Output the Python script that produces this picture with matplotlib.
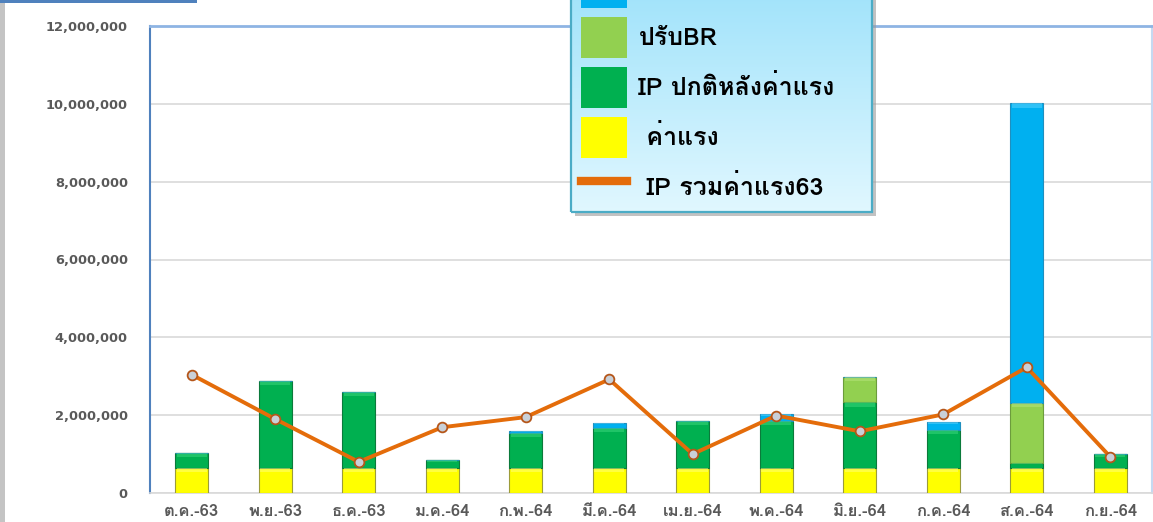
import numpy as np
import matplotlib
matplotlib.use('Agg')
import matplotlib.pyplot as plt
from matplotlib import font_manager
from matplotlib.ft2font import FT2Font
from matplotlib.patches import Patch, Rectangle
from matplotlib.lines import Line2D
from matplotlib.legend_handler import HandlerPatch, HandlerLine2D
from matplotlib.ticker import FuncFormatter, MultipleLocator

# ---------------- data ----------------
months = ['ต.ค.-63', 'พ.ย.-63', 'ธ.ค.-63', 'ม.ค.-64', 'ก.พ.-64', 'มี.ค.-64',
          'เม.ย.-64', 'พ.ค.-64', 'มิ.ย.-64', 'ก.ค.-64', 'ส.ค.-64', 'ก.ย.-64']
wage = [650000, 650000, 650000, 650000, 650000, 650000,
        650000, 650000, 650000, 650000, 650000, 650000]
ip_normal = [370000, 2240000, 1940000, 190000, 890000, 1030000,
             1210000, 1200000, 1680000, 970000, 110000, 350000]
br_adjust = [0, 0, 0, 0, 0, 0, 0, 0, 660000, 0, 1560000, 0]
ip_extra = [0, 0, 0, 0, 45000, 130000, 0, 180000, 0, 200000, 7690000, 0]
ip_total_63 = [3040000, 1900000, 800000, 1690000, 1950000, 2920000,
               1000000, 1990000, 1585000, 2020000, 3230000, 930000]

lbl_extra = 'IP ส่วนเพิ่ม'
lbl_br = 'ปรับBR'
lbl_normal = 'IP ปกติหลังค่าแรง'
lbl_wage = ' ค่าแรง'
lbl_line = ' IP รวมค่าแรง63'

# ---------------- fonts ----------------
thai_fams = []
for f in font_manager.fontManager.ttflist:
    try:
        if 0x0E01 in FT2Font(f.fname).get_charmap():
            if f.name not in thai_fams:
                thai_fams.append(f.name)
    except Exception:
        pass
families = thai_fams[:1] + ['DejaVu Sans']
plt.rcParams['font.family'] = families

W, H = 1153, 522
fig = plt.figure(figsize=(W / 100, H / 100), dpi=100)
fig.patch.set_facecolor('white')

ax = fig.add_axes([150 / W, (H - 493) / H, (1152 - 150) / W, (493 - 26) / H])
ax.set_facecolor('white')

x = np.arange(len(months))
wage_a = np.array(wage, float)
normal_a = np.array(ip_normal, float)
br_a = np.array(br_adjust, float)
extra_a = np.array(ip_extra, float)

bw = 0.40
c_wage, c_normal, c_br, c_extra = '#FFFF00', '#00B050', '#92D050', '#00B0F0'
e_wage, e_normal, e_br, e_extra = '#9c9c3a', '#0b7a3b', '#6c9c3c', '#1f8fbf'

ax.bar(x, wage_a, bw, color=c_wage, edgecolor=e_wage, linewidth=0.8, zorder=3)
b1 = wage_a
ax.bar(x, normal_a, bw, bottom=b1, color=c_normal, edgecolor=e_normal, linewidth=0.8, zorder=3)
b2 = b1 + normal_a
ax.bar(x, br_a, bw, bottom=b2, color=c_br, edgecolor=e_br, linewidth=0.8, zorder=3)
b3 = b2 + br_a
ax.bar(x, extra_a, bw, bottom=b3, color=c_extra, edgecolor=e_extra, linewidth=0.8, zorder=3)

# light bevel strip on top of each segment
for bottoms, vals, hl in [(np.zeros(12), wage_a, '#ffff80'), (b1, normal_a, '#3fd87f'),
                          (b2, br_a, '#b8e47f'), (b3, extra_a, '#5fd4ff')]:
    for xi, bo, v in zip(x, bottoms, vals):
        if v <= 0:
            continue
        h = min(v * 0.25, 110000)
        ax.bar(xi, h, bw * 0.9, bottom=bo + v - h, color=hl, linewidth=0, zorder=3.5, alpha=0.5)

ax.plot(x, ip_total_63, color='#E46C0A', linewidth=2.8, zorder=5,
        marker='o', markersize=7, markerfacecolor='#c9d0d8',
        markeredgecolor='#b5561a', markeredgewidth=1.3)

ax.set_xlim(-0.5, len(months) - 0.5)
ax.set_ylim(0, 12000000)
ax.yaxis.set_major_locator(MultipleLocator(2000000))
ax.yaxis.set_major_formatter(FuncFormatter(lambda v, p: f'{int(v):,}'))
ax.grid(axis='y', color='#d9d9d9', linewidth=1.2, zorder=0)
ax.set_axisbelow(True)
ax.set_xticks(x)
ax.set_xticklabels(months)
ax.tick_params(axis='y', length=0, pad=16, labelsize=9.4, labelcolor='#595959')
ax.tick_params(axis='x', length=0, pad=8, labelsize=12, labelcolor='#595959')
for t in ax.get_yticklabels():
    t.set_fontweight('bold')
    t.set_family(['DejaVu Sans'])
for t in ax.get_xticklabels():
    t.set_fontweight('bold')

ax.spines['left'].set_color('#4f81bd')
ax.spines['left'].set_linewidth(1.5)
ax.spines['top'].set_color('#8eb4e3')
ax.spines['top'].set_linewidth(2)
ax.spines['right'].set_color('#c6d9f1')
ax.spines['right'].set_linewidth(1.5)
ax.spines['bottom'].set_color('#d9d9d9')
ax.spines['bottom'].set_linewidth(1.2)

# screenshot decorations
fig.patches.append(Rectangle((0, 0), 5 / W, 1, transform=fig.transFigure,
                             facecolor='#c4c4c4', edgecolor='none', zorder=10))
fig.patches.append(Rectangle((0, 1 - 3 / H), 197 / W, 3 / H, transform=fig.transFigure,
                             facecolor='#4f81bd', edgecolor='none', zorder=10))

# ---------------- legend ----------------
handles = [Patch(facecolor=c_extra, edgecolor='none'),
           Patch(facecolor=c_br, edgecolor='none'),
           Patch(facecolor=c_normal, edgecolor='none'),
           Patch(facecolor=c_wage, edgecolor='none'),
           Line2D([0], [0], color='#E46C0A', linewidth=6)]
labels = [lbl_extra, lbl_br, lbl_normal, lbl_wage, lbl_line]
fs = 18
leg = fig.legend(handles, labels, loc='lower left',
                 bbox_to_anchor=(571 / W, (H - 212) / H, 301 / W, 0),
                 bbox_transform=fig.transFigure, mode='expand',
                 borderaxespad=0, prop={'weight': 'bold', 'size': fs},
                 handlelength=2.04, handleheight=2.146, labelspacing=0.36,
                 handletextpad=0.48, borderpad=0.18, fancybox=False,
                 frameon=True, framealpha=1,
                 handler_map={Patch: HandlerPatch(xpad=0.2),
                              Line2D: HandlerLine2D(xpad=0.2)})
leg.set_zorder(6)
frame = leg.get_frame()
frame.set_facecolor('none')
frame.set_edgecolor('#4bacc6')
frame.set_linewidth(1.6)

fig.canvas.draw()
bb = leg.get_window_extent(fig.canvas.get_renderer())
bbf = bb.transformed(fig.transFigure.inverted())
# shadow
fig.patches.append(Rectangle((bbf.x0 + 4 / W, bbf.y0 - 4 / H), bbf.width, bbf.height,
                             transform=fig.transFigure, facecolor='#9a9a9a',
                             edgecolor='none', alpha=0.6, zorder=4))
gax = fig.add_axes([bbf.x0, bbf.y0, bbf.width, bbf.height], zorder=5)
top = np.array([0.60, 0.88, 0.98])
bot = np.array([0.88, 0.97, 1.0])
t = np.linspace(0, 1, 256)[:, None]
grad = (top[None, :] * (1 - t) + bot[None, :] * t)[:, None, :]
gax.imshow(grad, aspect='auto', extent=[0, 1, 0, 1], origin='upper')
gax.set_axis_off()

fig.savefig('out.png', dpi=100)
